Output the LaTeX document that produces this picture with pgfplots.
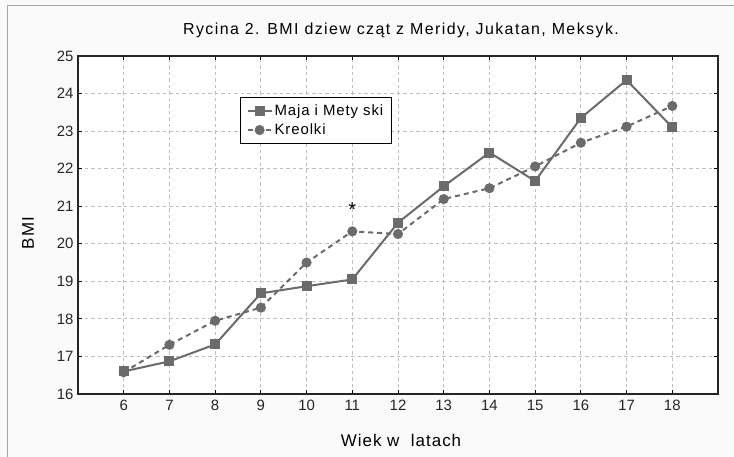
\documentclass[border=0pt]{standalone}
\usepackage{pgfplots}
\pgfplotsset{compat=1.18}
\usepackage{fontspec}
\setmainfont{Liberation Sans}
\newfontfamily\spaced[LetterSpace=9]{Liberation Sans}
\newfontfamily\spacedl[LetterSpace=6]{Liberation Sans}
\definecolor{lc}{HTML}{6B6B6B}
\definecolor{gridc}{HTML}{BEBEBE}
\definecolor{bgc}{HTML}{FAFAFA}
\begin{document}
\begin{tikzpicture}[x=1bp,y=1bp]
\useasboundingbox (-78,-63) rectangle (656,394);
\fill[bgc] (-78,-63) rectangle (656,394);
\draw[gray!70, line width=1bp] (-70,-63) -- (-70,388) -- (656,388);
\begin{axis}[
  at={(0,0)}, anchor=south west,
  scale only axis, width=640bp, height=338bp,
  xmin=5, xmax=19, ymin=16, ymax=25,
  xtick={6,...,18}, ytick={16,...,25},
  xtick pos=both, ytick pos=both,
  tick align=inside, major tick length=4bp,
  axis background/.style={fill=white},
  axis line style={line width=1.6bp, black!85},
  every tick/.style={black, line width=1bp},
  grid=major,
  major grid style={gridc, dash pattern=on 3.5bp off 3bp, line width=1bp},
  /pgf/number format/assume math mode=true,
  tick label style={font=\fontsize{15}{17}\selectfont, text=black!85},
  xticklabel style={yshift=-3bp},
  yticklabel style={xshift=-1bp},
  legend style={at={(0.253,0.879)}, anchor=north west, draw=black, line width=1.4bp,
     fill=white, font=\spacedl\fontsize{15}{19}\selectfont, inner xsep=6bp, inner ysep=5bp,
     row sep=3bp},
  legend cell align=left,
  legend image code/.code={\draw[#1] (0bp,0bp) -- (24bp,0bp); \draw[#1, mark repeat=2, mark phase=2] plot coordinates {(0bp,0bp) (12bp,0bp) (24bp,0bp)};},
]
\addplot[lc, line width=2bp, mark=square*, mark size=4bp, mark options={solid}] coordinates {
(6,16.6) (7,16.87) (8,17.32) (9,18.68) (10,18.87) (11,19.05) (12,20.56)
(13,21.53) (14,22.43) (15,21.67) (16,23.35) (17,24.36) (18,23.1)};
\addlegendentry{Maja i Mety ski}
\addplot[lc, line width=2bp, dash pattern=on 5bp off 4bp, mark=*, mark size=4bp, mark options={solid}] coordinates {
(6,16.58) (7,17.31) (8,17.95) (9,18.3) (10,19.5) (11,20.33) (12,20.26)
(13,21.19) (14,21.48) (15,22.06) (16,22.69) (17,23.12) (18,23.67)};
\addlegendentry{Kreolki}
\node[anchor=base, yshift=-10bp, font=\fontsize{20}{20}\selectfont] at (axis cs:11,21) {*};
\end{axis}
\node[font=\spaced\fontsize{16}{18}\selectfont] at (323,364) {Rycina 2. BMI dziew cząt z Meridy, Jukatan, Meksyk.};
\node[font=\spacedl\fontsize{17}{19}\selectfont, rotate=90] at (-50,161) {BMI};
\node[font=\spacedl\fontsize{17}{19}\selectfont] at (323,-46) {Wiek w\ \ latach};
\end{tikzpicture}
\end{document}
